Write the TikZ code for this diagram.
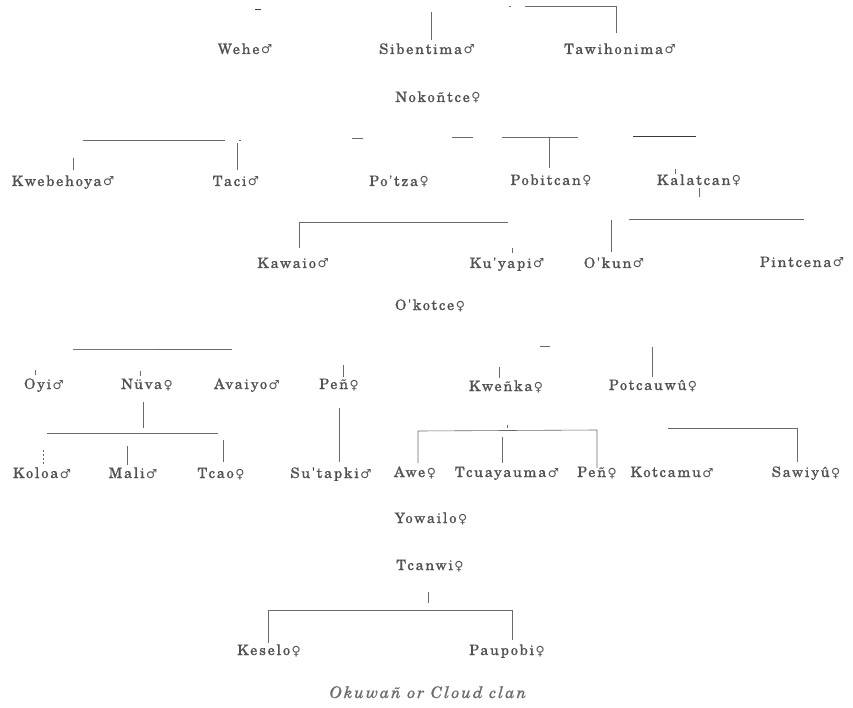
\documentclass[tikz,border=0pt]{standalone}
\usepackage{fontspec}
\newfontfamily\namefont{texgyreschola-regular.otf}[
  LetterSpace=12, FakeBold=0.4,
  ItalicFont=texgyreschola-italic.otf]
\newfontfamily\symfont{DejaVu Sans}
\definecolor{ink}{HTML}{525252}
\definecolor{rule}{HTML}{6A6A6A}
\definecolor{darkrule}{HTML}{3A3A3A}
\newcommand\sexm{\kern1.5pt{\symfont\fontsize{12.5}{12}\selectfont ♂}}
\newcommand\sexf{\kern1.5pt{\symfont\fontsize{12.5}{12}\selectfont ♀}}
\tikzset{
  person/.style={anchor=base, inner sep=0pt, text=ink,
    font=\namefont\fontsize{14.5}{18}\selectfont},
  caption/.style={anchor=base, inner sep=0pt, text=ink!85,
    font=\namefont\itshape\fontsize{16}{18}\selectfont},
  link/.style={draw=rule, line width=0.6pt},
  heavy/.style={draw=darkrule, line width=0.9pt},
}
\begin{document}
\begin{tikzpicture}[x=1pt,y=-1pt]
\useasboundingbox (0,0) rectangle (853,708);

% ---- first generation
\node[person] (wehe)       at (245,54)  {Wehe\sexm};
\node[person] (sibentima)  at (427,54)  {Sibentima\sexm};
\node[person] (tawihonima) at (620,54)  {Tawihonima\sexm};
\node[person] (nokontce)   at (438,102) {Nokoñtce\sexf};

% ---- second generation
\node[person] (kwebehoya) at (63,186)  {Kwebehoya\sexm};
\node[person] (taci)      at (236,186) {Taci\sexm};
\node[person] (portza)    at (399,186) {Po'tza\sexf};
\node[person] (pobitcan)  at (551,185) {Pobitcan\sexf};
\node[person] (kalatcan)  at (699,185) {Kalatcan\sexf};

% ---- third generation
\node[person] (kawaio)   at (293,268) {Kawaio\sexm};
\node[person] (kuryapi)  at (507,268) {Ku'yapi\sexm};
\node[person] (okun)     at (614,268) {O'kun\sexm};
\node[person] (pintcena) at (802,267) {Pintcena\sexm};
\node[person] (okotce)   at (430,310) {O'kotce\sexf};

% ---- fourth generation
\node[person] (oyi)      at (44,389)  {Oyi\sexm};
\node[person] (nuva)     at (147,389) {Nüva\sexf};
\node[person] (avaiyo)   at (247,389) {Avaiyo\sexm};
\node[person] (pena)     at (339,389) {Peñ\sexf};
\node[person] (kwenka)   at (506,391) {Kweñka\sexf};
\node[person] (potcauwu) at (653,390) {Potcauwû\sexf};

% ---- fifth generation
\node[person] (koloa)     at (42,478)  {Koloa\sexm};
\node[person] (mali)      at (133,478) {Mali\sexm};
\node[person] (tcao)      at (221,478) {Tcao\sexf};
\node[person] (surtapki)  at (331,478) {Su'tapki\sexm};
\node[person] (awe)       at (415,477) {Awe\sexf};
\node[person] (tcuayauma) at (507,477) {Tcuayauma\sexm};
\node[person] (penb)      at (597,477) {Peñ\sexf};
\node[person] (kotcamu)   at (672,477) {Kotcamu\sexm};
\node[person] (sawiyu)    at (806,477) {Sawiyû\sexf};

% ---- later generations
\node[person] (yowailo) at (431,523) {Yowailo\sexf};
\node[person] (tcanwi)  at (430,570) {Tcanwi\sexf};
\node[person] (keselo)  at (269,655) {Keselo\sexf};
\node[person] (paupobi) at (507,655) {Paupobi\sexf};

\node[caption] (title) at (428,698) {Okuwañ or Cloud clan};

% ---- descent lines, top rank
\draw[heavy] (255,9) -- (261,9);
\draw[link] (431,12) -- (431,40);
\draw[link] (509,6) -- (511,6);
\draw[link] (525,6) -- (616,6) -- (616,33);

% ---- second rank
\draw[link] (83,140) -- (225,140);
\draw[link] (239,140) -- (241,140);
\draw[link] (237,143) -- (237,170);
\draw[link] (73,158) -- (73,170);
\draw[link] (352,138) -- (363,138);
\draw[link] (452,137) -- (473,137);
\draw[link] (502,137) -- (578,137);
\draw[link] (549,137) -- (549,168);
\draw[heavy] (633,136) -- (696,136);
\draw[link] (675,169) -- (675,174);
\draw[link] (699,188) -- (699,197);

% ---- third rank
\draw[link] (508,222) -- (299,222) -- (299,248);
\draw[link] (512,248) -- (512,253);
\draw[link] (611,220) -- (611,252);
\draw[link] (629,219) -- (804,219);

% ---- fourth rank
\draw[heavy, draw=darkrule!70] (73,349) -- (155,349);
\draw[link] (155,349) -- (232,349);
\draw[link] (35,370) -- (35,375);
\draw[link] (140,371) -- (140,376);
\draw[link] (343,365) -- (343,377);
\draw[link] (540,346) -- (550,346);
\draw[link] (499,367) -- (499,378);
\draw[link] (652,347) -- (652,377);

% ---- fifth rank
\draw[link] (143,402) -- (143,428);
\draw[link] (47,433) -- (218,433);
\draw[link] (223,440) -- (223,462);
\draw[link] (127,446) -- (127,465);
\draw[link, dash pattern=on 2pt off 2pt] (43,450) -- (43,465);
\draw[link] (339,408) -- (339,462);
\draw[link] (418,463) -- (418,431) -- (597,430) -- (597,468);
\draw[link] (502,437) -- (502,463);
\draw[link] (507,425) -- (507,428);
\draw[heavy, draw=rule] (668,428) -- (797,428);
\draw[link] (797,428) -- (797,462);

% ---- last rank
\draw[link] (428,592) -- (428,603);
\draw[link] (268,643) -- (268,610) -- (512,610) -- (512,640);
\end{tikzpicture}
\end{document}
